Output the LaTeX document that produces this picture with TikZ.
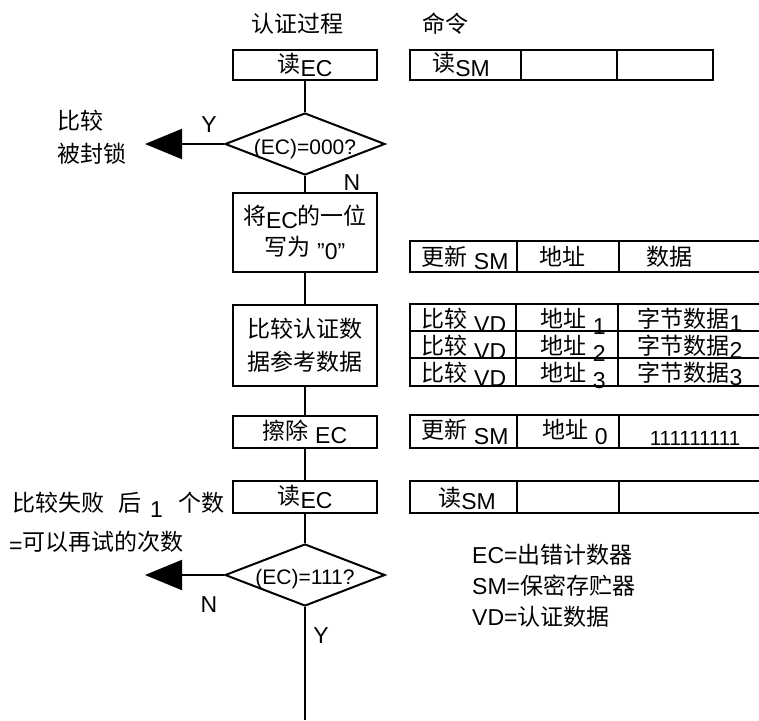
\documentclass[tikz,border=0pt]{standalone}
\usepackage{fontspec}
\setmainfont{Liberation Sans}
\newfontfamily\cjk{Noto Sans CJK SC}
\usetikzlibrary{shapes.geometric,arrows.meta}

\newcommand{\zh}[1]{{\cjk #1}}
\newcommand{\lo}[2][4pt]{\raisebox{-#1}{#2}}

\tikzset{
  flowbox/.style={draw, line width=2pt, minimum width=144pt, inner sep=0pt, align=center},
  test/.style={draw, diamond, line width=2pt, minimum width=160pt, minimum height=62pt,
    inner sep=0pt},
  testtext/.style={inner sep=0pt, font=\fontsize{21}{25}\selectfont},
  flow/.style={line width=2pt},
  exit/.style={line width=2pt, -{Triangle[length=37pt,width=30pt]}},
  grid/.style={line width=2pt},
  cell/.style={anchor=base, inner sep=0pt},
  note/.style={inner sep=0pt}
}

\begin{document}
\begin{tikzpicture}[x=1pt, y=-1pt, font=\fontsize{23}{27}\selectfont]
  \useasboundingbox (0,0) rectangle (759,720);

  % headings
  \node[note] (head1) at (297,24) {\zh{认证过程}};
  \node[note] (head2) at (445,24) {\zh{命令}};

  % flow column
  \node[flowbox, minimum height=30pt] (rd1) at (305,65) {\zh{读}\lo{EC}};
  \node[test] (cmp1) at (305,144) {};
  \node[testtext] (cmp1t) at (305,149) {(EC)=000?};
  \node[flowbox, minimum height=79pt] (wr) at (305,232)
    {\zh{将}\lo{EC}\zh{的一位}\\[4pt]\zh{写为} \lo{"0”}};
  \node[flowbox, minimum height=81pt] (vd) at (305,345)
    {\zh{比较认证数}\\[6pt]\zh{据参考数据}};
  \node[flowbox, minimum height=32pt] (er) at (305,432) {\zh{擦除} \lo{EC}};
  \node[flowbox, minimum height=32pt] (rd2) at (305,497) {\zh{读}\lo{EC}};
  \node[test] (cmp2) at (305,575) {};
  \node[testtext] (cmp2t) at (305,579) {(EC)=111?};
  \coordinate (stop) at (305,720);

  \draw[flow] (rd1) -- (cmp1) -- (wr) -- (vd) -- (er) -- (rd2) -- (cmp2) -- (stop);

  % exits
  \coordinate (out1) at (145,144);
  \coordinate (out2) at (145,575);
  \draw[exit] (cmp1.west) -- (out1);
  \draw[exit] (cmp2.west) -- (out2);

  \node[note] (y1) at (209,125) {Y};
  \node[note] (n1) at (352,183) {N};
  \node[note] (n2) at (209,605) {N};
  \node[note] (y2) at (321,636) {Y};

  \node[note, anchor=west, align=left, font=\fontsize{23}{33}\selectfont] (locked) at (57,137)
    {\zh{比较}\\\zh{被封锁}};

  \node[note, anchor=base west] (fail1) at (12,511)
    {\zh{比较失败}\hspace{14pt}\zh{后}\hspace{9pt}\lo[6pt]{1}\hspace{16pt}\zh{个数}};
  \node[note, anchor=base west] (fail2) at (9,550)
    {\lo[3pt]{=}\zh{可以再试的次数}};

  % command rows
  \draw[grid] (410,50) rectangle (713,80);
  \draw[grid] (521,50) -- (521,80) (617,50) -- (617,80);
  \node[cell] (c1a) at (461,71) {\zh{读}\lo[5pt]{SM}};

  \draw[grid] (759,241) -- (410,241) -- (410,272) -- (759,272);
  \draw[grid] (517,241) -- (517,272) (619,241) -- (619,272);
  \node[cell] (c2a) at (465,265) {\zh{更新} \lo{SM}};
  \node[cell] (c2b) at (562,265) {\zh{地址}};
  \node[cell] (c2c) at (669,265) {\zh{数据}};

  \draw[grid] (759,304) -- (410,304) -- (410,386) -- (759,386);
  \draw[grid] (410,331) -- (759,331) (410,358) -- (759,358);
  \draw[grid] (516,304) -- (516,386) (618,304) -- (618,386);
  \node[cell] (c3a) at (464,327) {\zh{比较} \lo[5pt]{VD}};
  \node[cell] (c3b) at (573,327) {\zh{地址} \lo[7pt]{1}};
  \node[cell] (c3c) at (690,327) {\zh{字节数据}\lo[4pt]{1}};
  \node[cell] (c4a) at (464,354) {\zh{比较} \lo[5pt]{VD}};
  \node[cell] (c4b) at (573,354) {\zh{地址} \lo[7pt]{2}};
  \node[cell] (c4c) at (690,354) {\zh{字节数据}\lo[4pt]{2}};
  \node[cell] (c5a) at (464,381) {\zh{比较} \lo[5pt]{VD}};
  \node[cell] (c5b) at (573,381) {\zh{地址} \lo[7pt]{3}};
  \node[cell] (c5c) at (690,381) {\zh{字节数据}\lo[4pt]{3}};

  \draw[grid] (759,415) -- (410,415) -- (410,448) -- (759,448);
  \draw[grid] (517,415) -- (517,448) (619,415) -- (619,448);
  \node[cell] (c6a) at (465,438) {\zh{更新} \lo[6pt]{SM}};
  \node[cell] (c6b) at (575,438) {\zh{地址} \lo[6pt]{0}};
  \node[cell, font=\fontsize{20.5}{25}\selectfont] (c6c) at (695,445) {111111111};

  \draw[grid] (759,481) -- (410,481) -- (410,513) -- (759,513);
  \draw[grid] (517,481) -- (517,513) (619,481) -- (619,513);
  \node[cell] (c7a) at (467,506) {\zh{读}\lo[3pt]{SM}};

  % legend
  \node[note, anchor=west, align=left, font=\fontsize{23}{31}\selectfont] (legend) at (472,586)
    {EC=\zh{出错计数器}\\SM=\zh{保密存贮器}\\VD=\zh{认证数据}};
\end{tikzpicture}
\end{document}
